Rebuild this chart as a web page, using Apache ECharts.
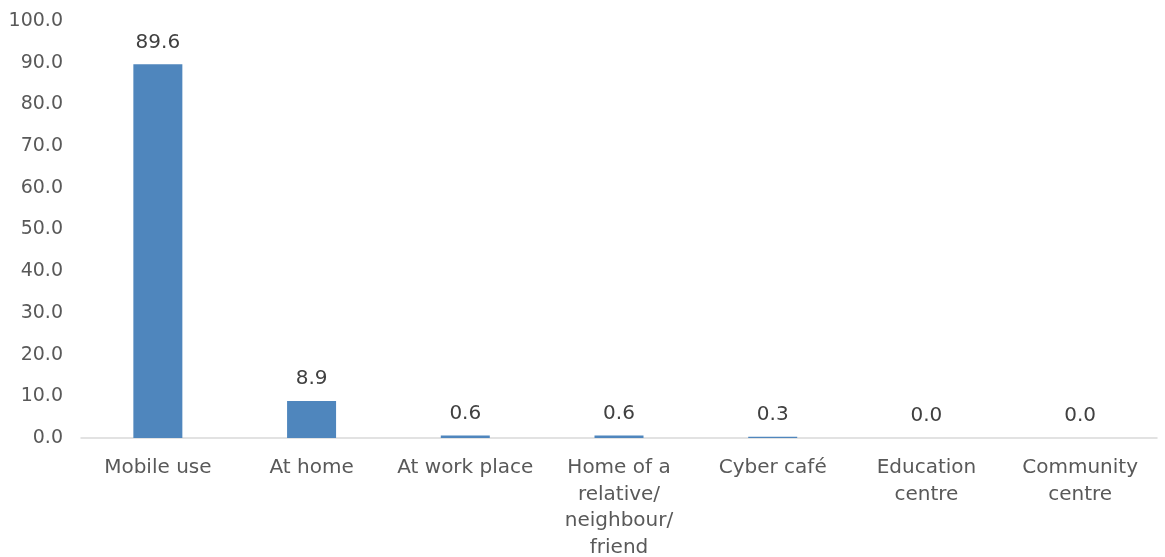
<!DOCTYPE html>
<html>
<head>
<meta charset="utf-8">
<script src="https://cdn.jsdelivr.net/npm/echarts@6/dist/echarts.min.js"></script>
<style>
  html, body { margin: 0; padding: 0; background: #fff; }
  #chart { width: 1165px; height: 557px; }
</style>
</head>
<body>
<div id="chart"></div>
<script>
const categories = [
    "Mobile use",
    "At home",
    "At work place",
    "Home of a\nrelative/\nneighbour/\nfriend",
    "Cyber café",
    "Education\ncentre",
    "Community\ncentre"
];
const shares = [89.6, 8.9, 0.6, 0.6, 0.3, 0.0, 0.0];

const chart = echarts.init(document.getElementById("chart"));

chart.setOption({
    animation: false,
    backgroundColor: "#fff",
    textStyle: { fontFamily: "DejaVu Sans" },
    grid: {
        left: 81, right: 8, top: 21, bottom: 119,
        containLabel: false,
        outerBoundsMode: "none"
    },

    xAxis: {
        type: "category",
        data: categories,
        axisLine: { lineStyle: { color: "#d9d9d9", width: 1.5 } },
        axisTick: { show: false },
        axisLabel: {
            color: "#595959",
            fontSize: 20,
            lineHeight: 26.5,
            margin: 17,
            interval: 0
        }
    },

    yAxis: {
        type: "value",
        min: 0,
        max: 100,
        interval: 10,
        axisLine: { show: false },
        axisTick: { show: false },
        splitLine: { show: false },
        axisLabel: {
            color: "#595959",
            fontSize: 19,
            margin: 18,
            formatter: v => v.toFixed(1)
        }
    },

    series: [
        {
            type: "bar",
            data: shares,
            barWidth: 49,
            itemStyle: { color: "#4f86bd" },
            label: {
                show: true,
                position: "top",
                distance: 12,
                color: "#404040",
                fontSize: 20,
                formatter: p => p.value.toFixed(1)
            }
        }
    ]
});
</script>
</body>
</html>
